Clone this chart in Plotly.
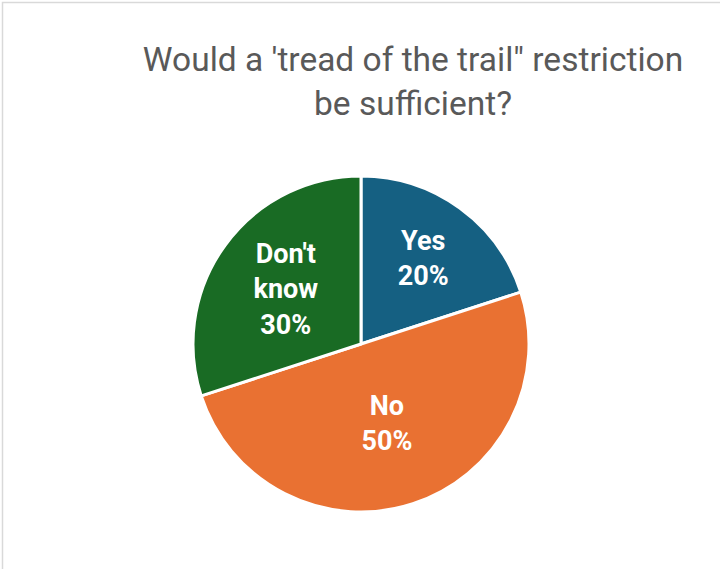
import plotly.graph_objects as go

categories = ["Yes", "No", "Don't<br>know"]
values = [20, 50, 30]
colors = ["#156082", "#E97132", "#196B24"]
title_text = "Would a 'tread of the trail\" restriction<br>be sufficient?"

W, H = 720, 569

fig = go.Figure(go.Pie(
    labels=categories,
    values=values,
    sort=False,
    direction="clockwise",
    rotation=0,
    marker=dict(colors=colors, line=dict(color="white", width=3)),
    texttemplate="%{label}<br>%{percent:.0%}",
    textposition="inside",
    insidetextorientation="horizontal",
    textfont=dict(family="Roboto", size=27, color="white", weight="bold"),
    hoverinfo="label+percent",
    showlegend=False,
    domain=dict(x=[193 / W, 529 / W], y=[1 - 512 / H, 1 - 176 / H]),
))

fig.update_layout(
    width=W, height=H,
    margin=dict(l=0, r=0, t=0, b=0),
    paper_bgcolor="white",
    title=dict(
        text=title_text,
        x=413 / W, xanchor="center",
        y=1 - 71 / H, yanchor="top",
        font=dict(family="Roboto", size=33.5, color="#595959"),
    ),
    shapes=[dict(
        type="rect", xref="paper", yref="paper",
        x0=2.5 / W, x1=1.2, y0=-0.2, y1=1 - 2.5 / H,
        line=dict(color="#D9D9D9", width=1.5),
        fillcolor="rgba(0,0,0,0)",
    )],
)

fig.write_html(
    "out.html",
    config={"displayModeBar": False},
    post_script="document.body.style.margin='0';document.body.style.padding='0';",
)
